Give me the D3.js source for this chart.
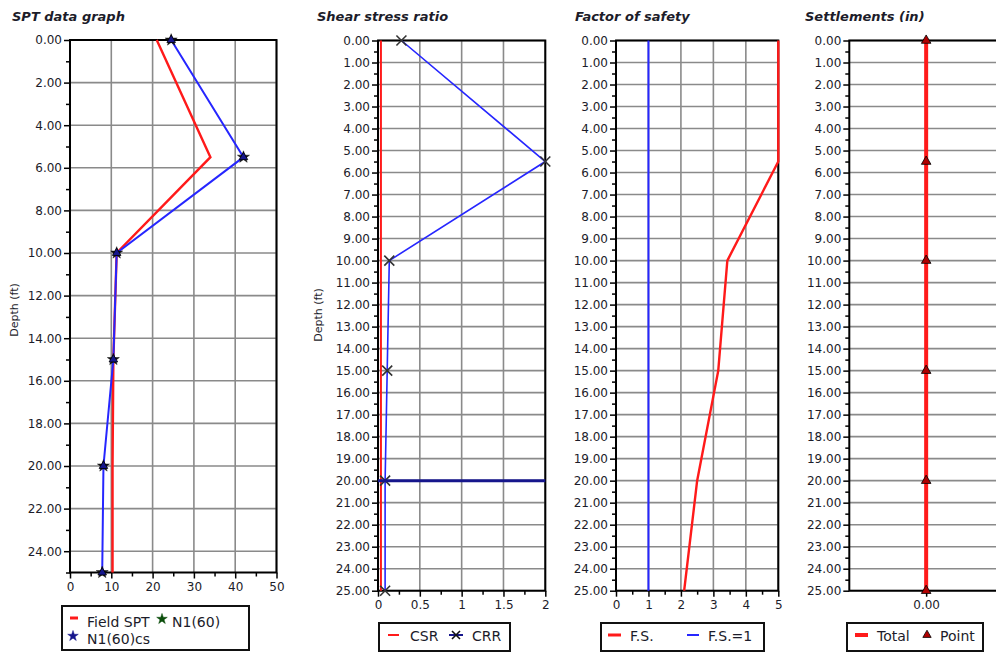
<!DOCTYPE html>
<html>
<head>
<meta charset="utf-8">
<script src="https://cdn.jsdelivr.net/npm/d3@7/dist/d3.min.js"></script>
<style>
  html, body { margin: 0; padding: 0; background: #fff; }
  svg { display: block; }
  text { font-family: "DejaVu Sans", Verdana, sans-serif; fill: #1c1c2a; }
</style>
</head>
<body>
<svg id="chart" width="996" height="652"></svg>
<script>
// Sample depths (ft) shared by every track
const depth = [0, 5.5, 10, 15, 20, 25];

// SPT track
const fieldSPT = [21, 34, 11.3, 10.5, 10.3, 10.3];
const n160     = [24.5, 42, 11.3, 10.5, 8.1, 7.8];
const n160cs   = [24.5, 42, 11.3, 10.5, 8.1, 7.8];

// Shear stress ratio track
const csr = [0.035, 0.035, 0.035, 0.035, 0.035, 0.035];
const crr = [0.28, 2.0, 0.135, 0.11, 0.085, 0.085];
const waterTableDepth = [20];

// Factor of safety track
const factorOfSafety = [5, 5, 3.43, 3.15, 2.5, 2.1];
const fsLimit = [1];

// Settlement track
const settlement = [0, 0, 0, 0, 0, 0];

// Tick labels
const sptTicks = [0, 10, 20, 30, 40, 50];
const sptMinor = [5, 15, 25, 35, 45];
const sptDepthTicks = [0, 2, 4, 6, 8, 10, 12, 14, 16, 18, 20, 22, 24];
const sptDepthMinor = [1, 3, 5, 7, 9, 11, 13, 15, 17, 19, 21, 23, 25];
const ratioTicks = [0, 0.5, 1, 1.5, 2];
const ratioMinor = [0.25, 0.75, 1.25, 1.75];
const fsTicks = [0, 1, 2, 3, 4, 5];
const fsMinor = [0.5, 1.5, 2.5, 3.5, 4.5];
const settleTicks = [0];
const depthTicks = [0, 1, 2, 3, 4, 5, 6, 7, 8, 9, 10, 11, 12, 13, 14, 15, 16, 17, 18, 19, 20, 21, 22, 23, 24, 25];
const depthMinor = [0.5, 1.5, 2.5, 3.5, 4.5, 5.5, 6.5, 7.5, 8.5, 9.5, 10.5, 11.5, 12.5, 13.5, 14.5, 15.5, 16.5, 17.5, 18.5, 19.5, 20.5, 21.5, 22.5, 23.5, 24.5];

const svg = d3.select("#chart");
const RED = "#ff1a1a", BLUE = "#2626ff", NAVY = "#16168c", GRID = "#8a8a8a";

function track(o) {
  const g = svg.append("g");
  const x = d3.scaleLinear().domain(o.xDomain).range(o.xRange);
  const y = d3.scaleLinear().domain([0, 25]).range(o.yRange);

  // title
  g.append("text").attr("x", o.titleX).attr("y", 21)
    .attr("font-size", 13).attr("font-weight", "bold").attr("font-style", "italic")
    .text(o.title);

  // grid
  if (o.vGrid) {
    g.selectAll(".vg").data(o.xTicks).join("line")
      .attr("x1", d => x(d)).attr("x2", d => x(d))
      .attr("y1", o.yRange[0]).attr("y2", o.yRange[1])
      .attr("stroke", GRID).attr("stroke-width", 1.6);
  }
  g.selectAll(".hg").data(o.yTicks).join("line")
    .attr("x1", o.xRange[0]).attr("x2", o.xRange[1])
    .attr("y1", d => y(d)).attr("y2", d => y(d))
    .attr("stroke", GRID).attr("stroke-width", 1.6);

  // axes
  const yAxis = g.append("g").attr("transform", `translate(${o.xRange[0]},0)`)
    .call(d3.axisLeft(y).tickValues(o.yTicks).tickSize(6).tickPadding(2).tickFormat(d3.format(".2f")));
  const yMinor = g.append("g").attr("transform", `translate(${o.xRange[0]},0)`)
    .call(d3.axisLeft(y).tickValues(o.yMinor).tickSize(4).tickFormat(""));
  const xAxis = g.append("g").attr("transform", `translate(0,${o.yRange[1]})`)
    .call(d3.axisBottom(x).tickValues(o.xTicks).tickSize(6).tickPadding(4).tickFormat(o.xFormat));
  const xMinor = g.append("g").attr("transform", `translate(0,${o.yRange[1]})`)
    .call(d3.axisBottom(x).tickValues(o.xMinor).tickSize(4).tickFormat(""));
  [yAxis, yMinor, xAxis, xMinor].forEach(a => {
    a.select(".domain").remove();
    a.selectAll("line").attr("stroke", "#000").attr("stroke-width", 1.5);
    a.selectAll("text").attr("font-size", 12).attr("font-family", "DejaVu Sans, sans-serif").attr("fill", "#1c1c2a");
  });

  // depth label
  if (o.depthLabel) {
    g.append("text")
      .attr("transform", `translate(${o.depthLabel[0]},${o.depthLabel[1]}) rotate(-90)`)
      .attr("text-anchor", "middle").attr("font-size", 11).text("Depth (ft)");
  }

  // frame
  g.append("rect")
    .attr("x", o.xRange[0]).attr("y", o.yRange[0])
    .attr("width", o.xRange[1] - o.xRange[0]).attr("height", o.yRange[1] - o.yRange[0])
    .attr("fill", "none").attr("stroke", "#000").attr("stroke-width", 2);

  // data layer, drawn over the frame
  const data = g.append("g");
  o.draw(data, x, y);

  // legend
  const lg = g.append("g");
  lg.append("rect").attr("x", o.legend.box[0]).attr("y", o.legend.box[1])
    .attr("width", o.legend.box[2]).attr("height", o.legend.box[3])
    .attr("fill", "#fff").attr("stroke", "#111").attr("stroke-width", 2);
  o.legend.items.forEach(it => {
    if (it.line) {
      lg.append("line").attr("x1", it.line[0]).attr("x2", it.line[1])
        .attr("y1", it.ly).attr("y2", it.ly)
        .attr("stroke", it.color).attr("stroke-width", it.lw || 3);
    }
    if (it.sym) it.sym(lg, it.sx, it.ly);
    lg.append("text").attr("x", it.tx).attr("y", it.ty).attr("font-size", 14).text(it.label);
  });
  return { x, y };
}

const lineGen = (x, y, vals) => d3.line().x((d, i) => x(vals[i])).y(d => y(d));

function triangle(sel, cx, cy, fill, size) {
  sel.append("path").attr("d", d3.symbol().type(d3.symbolTriangle).size(size)())
    .attr("transform", `translate(${cx},${cy})`)
    .attr("fill", fill).attr("stroke", "#000").attr("stroke-width", 0.8);
}
function star(sel, cx, cy, fill, size) {
  sel.append("path").attr("d", d3.symbol().type(d3.symbolStar).size(size)())
    .attr("transform", `translate(${cx},${cy})`)
    .attr("fill", fill).attr("stroke", fill).attr("stroke-width", 0.5);
}
function cross(sel, cx, cy, color, s) {
  sel.append("path")
    .attr("d", `M${cx - s},${cy - s}L${cx + s},${cy + s}M${cx - s},${cy + s}L${cx + s},${cy - s}`)
    .attr("stroke", color).attr("stroke-width", 1.6).attr("fill", "none");
}

// SPT data graph
track({
  title: "SPT data graph", titleX: 12,
  xDomain: [0, 50], xRange: [70, 276.5], yRange: [40, 572.5],
  xTicks: sptTicks, xMinor: sptMinor, yTicks: sptDepthTicks, yMinor: sptDepthMinor,
  xFormat: d3.format("d"), vGrid: true, depthLabel: [18, 310],
  draw(g, x, y) {
    g.append("path").datum(depth).attr("d", lineGen(x, y, fieldSPT))
      .attr("fill", "none").attr("stroke", RED).attr("stroke-width", 2.4);
    g.append("path").datum(depth).attr("d", lineGen(x, y, n160cs))
      .attr("fill", "none").attr("stroke", BLUE).attr("stroke-width", 2);
    depth.forEach((d, i) => star(g, x(n160[i]), y(d), "#111", 45));
    depth.forEach((d, i) => triangle(g, x(n160cs[i]), y(d), NAVY, 32));
  },
  legend: {
    box: [62, 606, 187, 44],
    items: [
      { label: "Field SPT", line: [70, 78], ly: 618, color: RED, tx: 87, ty: 627 },
      { label: "N1(60)", sym: (s, cx, cy) => star(s, cx, cy, "#0b4d0b", 35), sx: 162, ly: 619, tx: 172, ty: 627 },
      { label: "N1(60)cs", sym: (s, cx, cy) => star(s, cx, cy, NAVY, 35), sx: 73, ly: 636, tx: 87, ty: 644 }
    ]
  }
});

// Shear stress ratio
track({
  title: "Shear stress ratio", titleX: 317,
  xDomain: [0, 2], xRange: [378, 545.3], yRange: [40.5, 590.7],
  xTicks: ratioTicks, xMinor: ratioMinor, yTicks: depthTicks, yMinor: depthMinor,
  xFormat: d3.format(""), vGrid: true, depthLabel: [322, 315],
  draw(g, x, y) {
    g.append("path").datum(depth).attr("d", lineGen(x, y, csr))
      .attr("fill", "none").attr("stroke", RED).attr("stroke-width", 2);
    g.append("path").datum(depth).attr("d", lineGen(x, y, crr))
      .attr("fill", "none").attr("stroke", BLUE).attr("stroke-width", 1.6);
    depth.forEach((d, i) => cross(g, x(crr[i]), y(d), "#333", 5));
    g.selectAll(".wt").data(waterTableDepth).join("line")
      .attr("x1", x(0)).attr("x2", x(2)).attr("y1", d => y(d)).attr("y2", d => y(d))
      .attr("stroke", NAVY).attr("stroke-width", 3);
  },
  legend: {
    box: [379, 623, 131, 28],
    items: [
      { label: "CSR", line: [388, 399], ly: 635, color: RED, lw: 2, tx: 410, ty: 641 },
      { label: "CRR", line: [449, 463], ly: 635, color: NAVY, lw: 2,
        sym: (s, cx, cy) => cross(s, cx, cy, "#111", 4), sx: 456, tx: 472, ty: 641 }
    ]
  }
});

// Factor of safety
track({
  title: "Factor of safety", titleX: 575,
  xDomain: [0, 5], xRange: [616, 778.3], yRange: [40.5, 590.7],
  xTicks: fsTicks, xMinor: fsMinor, yTicks: depthTicks, yMinor: depthMinor,
  xFormat: d3.format("d"), vGrid: true,
  draw(g, x, y) {
    g.selectAll(".lim").data(fsLimit).join("line")
      .attr("x1", d => x(d)).attr("x2", d => x(d)).attr("y1", y(0)).attr("y2", y(25))
      .attr("stroke", BLUE).attr("stroke-width", 2);
    g.append("path").datum(depth).attr("d", lineGen(x, y, factorOfSafety))
      .attr("fill", "none").attr("stroke", RED).attr("stroke-width", 2.4);
  },
  legend: {
    box: [601, 623, 163, 28],
    items: [
      { label: "F.S.", line: [608, 621], ly: 635, color: RED, lw: 3, tx: 630, ty: 641 },
      { label: "F.S.=1", line: [687, 699], ly: 635, color: BLUE, lw: 2, tx: 708, ty: 641 }
    ]
  }
});

// Settlements
track({
  title: "Settlements (in)", titleX: 805,
  xDomain: [-1, 1], xRange: [849.3, 1003], yRange: [40.5, 590.7],
  xTicks: settleTicks, xMinor: [], yTicks: depthTicks, yMinor: depthMinor,
  xFormat: d3.format(".2f"), vGrid: false,
  draw(g, x, y) {
    g.append("path").datum(depth).attr("d", lineGen(x, y, settlement))
      .attr("fill", "none").attr("stroke", RED).attr("stroke-width", 4);
    depth.forEach((d, i) => triangle(g, x(settlement[i]), y(d), "#b00000", 40));
  },
  legend: {
    box: [847, 623, 136, 28],
    items: [
      { label: "Total", line: [855, 868], ly: 635, color: RED, lw: 4, tx: 877, ty: 641 },
      { label: "Point", sym: (s, cx, cy) => triangle(s, cx, cy, "#b00000", 30), sx: 927, ly: 635, tx: 940, ty: 641 }
    ]
  }
});
</script>
</body>
</html>
